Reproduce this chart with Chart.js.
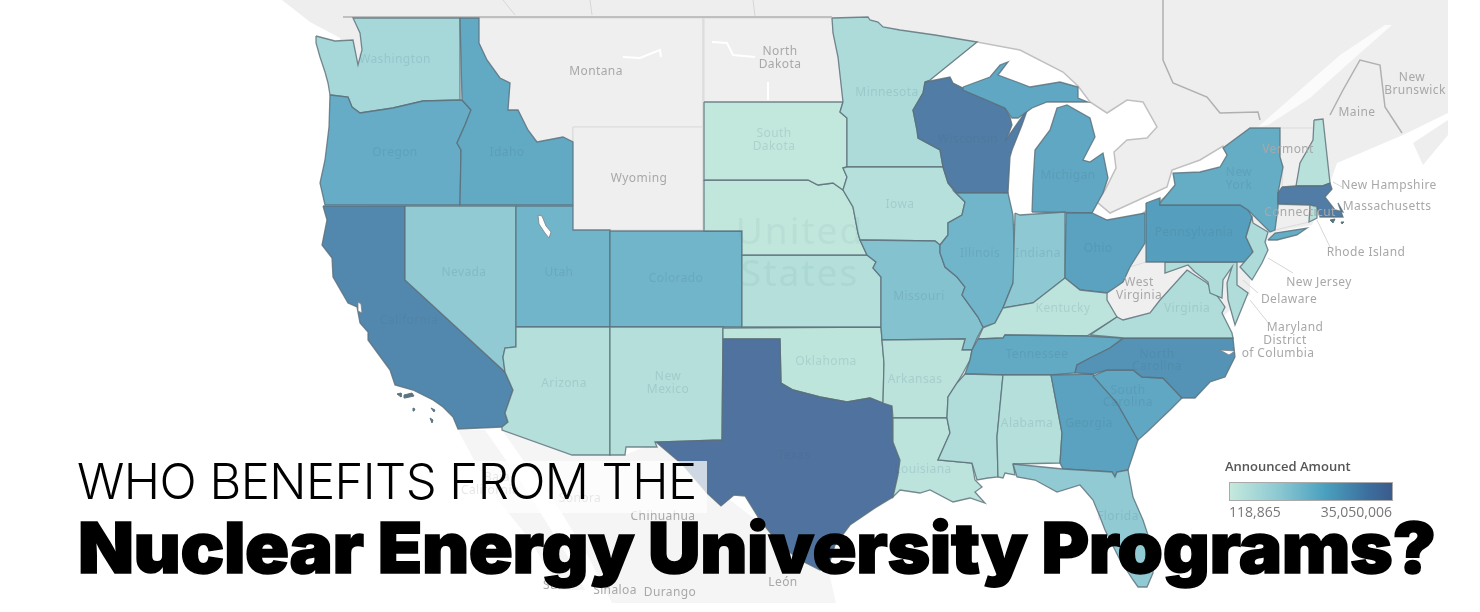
<!DOCTYPE html>
<html>
<head>
<meta charset="utf-8">
<title>Who benefits from the Nuclear Energy University Programs?</title>
<script src="https://cdn.jsdelivr.net/npm/chart.js@4"></script>
<style>
  html, body { margin: 0; padding: 0; background: #fff; width: 1480px; height: 612px; overflow: hidden; }
  #wrap { position: relative; width: 1480px; height: 612px; }
  #mapChart { position: absolute; left: 0; top: 0; }
  #veil { position: absolute; left: 280px; top: 461px; width: 427px; height: 52px; background: rgba(255,255,255,.72); }
  #line1 { position: absolute; left: 77px; top: 452px; font: 300 49px Inter, sans-serif; color: #000; white-space: nowrap; letter-spacing: -0.55px; }
  #line2 { position: absolute; left: 78px; top: 505px; font: 900 70px Inter, sans-serif; color: #000; white-space: nowrap; -webkit-text-stroke: 1.5px #000; letter-spacing: -0.4px; transform: scaleX(1.04); transform-origin: left center; }
  #legTitle { position: absolute; left: 1225px; top: 457px; font: 600 13px "Open Sans", sans-serif; color: #555; }
  #legBar { position: absolute; left: 1229px; top: 482px; width: 162px; height: 17px; border: 1px solid #aaa;
            background: linear-gradient(to right, #c5e9dd, #8cc8d2 30%, #4ba1bf 58%, #3c6f9e 85%, #3b5b8c); }
  #legMin { position: absolute; left: 1229px; top: 502px; font: 14px "Open Sans", sans-serif; color: #777; }
  #legMax { position: absolute; right: 88px; top: 502px; font: 14px "Open Sans", sans-serif; color: #777; }
</style>
</head>
<body>
<div id="wrap">
  <canvas id="mapChart" width="1480" height="612"></canvas>
  <div id="veil"></div>
  <div id="line1">WHO BENEFITS FROM THE</div>
  <div id="line2">Nuclear Energy University Programs?</div>
  <div id="legTitle">Announced Amount</div>
  <div id="legBar"></div>
  <div id="legMin">118,865</div>
  <div id="legMax">35,050,006</div>
</div>
<script>
// amounts are estimated from the colour of each state
const minAmount = 118865;
const maxAmount = 35050006;

const stateNames = ['Washington','Oregon','Idaho','California','Nevada','Utah','Colorado','Arizona','New Mexico','Oklahoma','Texas','Kansas','Nebraska','South Dakota','Minnesota','Iowa','Missouri','Arkansas','Louisiana','Wisconsin','Michigan','Michigan','Illinois','Indiana','Ohio','Kentucky','Tennessee','Mississippi','Alabama','Georgia','South Carolina','North Carolina','Florida','Virginia','Maryland','Pennsylvania','New York','New York','New Jersey','New Hampshire','Massachusetts','Rhode Island'];

const stateAmounts = [7800000,19000000,20300000,29800000,11600000,16500000,16500000,4600000,4600000,1800000,35050006,4600000,1100000,800000,6300000,4200000,13400000,2800000,2500000,32600000,21000000,21000000,16500000,12000000,23000000,2100000,20300000,5600000,4600000,23000000,21000000,27300000,11600000,5600000,5600000,24500000,19300000,19300000,6600000,3500000,32600000,4600000];

// outlines in map units, same order as stateNames
const stateOutlines = [
  [[316,36],[335,41],[353,40],[358,65],[362,50],[360,33],[353,18],[460,18],[460,100],[423,101],[393,108],[360,113],[352,107],[348,97],[330,95],[328,83],[325,72],[320,57],[316,43]],
  [[330,95],[348,97],[352,107],[360,113],[393,108],[423,101],[462,100],[471,110],[465,125],[457,143],[461,150],[460,205],[325,205],[320,183],[325,160],[329,127]],
  [[460,18],[479,18],[479,43],[487,60],[500,78],[510,83],[508,110],[518,110],[528,130],[537,142],[563,137],[573,142],[573,205],[460,205],[461,150],[457,143],[465,125],[471,110],[462,100]],
  [[323,206],[405,206],[405,280],[505,372],[513,390],[505,413],[508,422],[502,427],[458,429],[453,417],[443,407],[433,400],[413,390],[395,385],[390,370],[368,340],[368,332],[360,323],[357,307],[348,303],[333,277],[332,258],[322,245],[327,220]],
  [[405,206],[516,206],[516,347],[505,348],[503,357],[505,372],[405,280]],
  [[516,206],[573,206],[573,230],[610,230],[610,327],[516,327]],
  [[610,231],[742,231],[742,327],[610,327]],
  [[516,327],[610,327],[610,455],[572,455],[502,430],[502,427],[508,422],[505,413],[513,390],[505,372],[503,357],[505,348],[516,347]],
  [[610,327],[723,327],[722,440],[655,442],[657,447],[626,447],[625,455],[610,455]],
  [[723,328],[881,327],[882,340],[884,363],[883,403],[870,398],[847,402],[820,397],[793,390],[781,383],[780,339],[723,339]],
  [[723,339],[780,339],[781,383],[793,390],[820,397],[847,402],[870,398],[883,403],[892,406],[893,442],[900,460],[898,475],[893,497],[875,508],[850,525],[835,545],[828,568],[820,570],[800,560],[780,545],[760,520],[745,496],[734,495],[721,506],[707,493],[683,465],[656,442],[722,440]],
  [[742,255],[867,255],[876,262],[873,268],[881,277],[881,327],[742,327]],
  [[704,180],[808,180],[818,185],[833,183],[843,190],[853,207],[858,233],[860,240],[867,255],[742,255],[742,231],[704,231]],
  [[704,102],[843,102],[840,112],[847,118],[847,167],[843,168],[847,177],[843,190],[833,183],[818,185],[808,180],[704,180]],
  [[832,18],[868,17],[870,20],[878,22],[883,27],[900,30],[935,35],[977,42],[930,80],[925,82],[923,93],[913,110],[917,130],[918,138],[940,150],[943,167],[847,167],[847,118],[840,112],[843,102],[838,57],[833,33]],
  [[847,167],[943,167],[948,183],[955,192],[965,202],[962,215],[948,223],[948,235],[940,245],[935,241],[860,240],[858,233],[853,207],[843,190],[847,177],[843,168]],
  [[860,240],[935,241],[940,245],[940,253],[945,267],[957,277],[965,287],[962,295],[978,317],[983,327],[977,338],[972,350],[962,350],[965,339],[882,340],[881,327],[881,277],[873,268],[876,262],[867,255]],
  [[882,340],[965,339],[962,350],[972,350],[970,360],[963,373],[957,383],[948,397],[947,418],[893,418],[892,406],[883,403],[884,363]],
  [[893,418],[947,418],[950,433],[938,460],[972,463],[975,480],[982,487],[975,492],[985,503],[970,498],[953,502],[930,490],[920,493],[900,490],[893,497],[898,475],[900,460],[893,442]],
  [[925,82],[950,77],[953,83],[963,88],[1005,108],[1010,117],[1012,125],[1007,138],[1028,108],[1022,125],[1012,150],[1010,157],[1008,193],[957,193],[948,183],[943,167],[940,150],[918,138],[917,130],[913,110],[923,93]],
  [[963,87],[990,77],[1000,65],[1008,62],[998,75],[1017,82],[1030,87],[1060,82],[1078,87],[1078,98],[1088,102],[1067,102],[1047,102],[1032,108],[1018,118],[1012,118],[1005,108],[963,90]],
  [[1032,212],[1033,183],[1035,150],[1050,130],[1057,108],[1067,105],[1090,118],[1095,137],[1083,160],[1090,162],[1103,153],[1108,178],[1103,193],[1092,213]],
  [[957,193],[1008,193],[1013,215],[1015,270],[1013,283],[1003,308],[995,323],[983,327],[978,317],[962,295],[965,287],[957,277],[945,267],[940,253],[940,245],[948,235],[948,223],[962,215],[965,202],[955,192]],
  [[1015,213],[1020,215],[1065,212],[1065,278],[1033,303],[1003,308],[1013,283]],
  [[1066,213],[1092,213],[1107,220],[1145,213],[1145,243],[1130,267],[1123,282],[1107,293],[1080,290],[1065,278]],
  [[983,328],[995,323],[1003,308],[1033,303],[1065,278],[1080,290],[1107,293],[1107,300],[1117,317],[1087,336],[1005,335],[1003,338],[978,339]],
  [[978,339],[1003,338],[1005,335],[1087,336],[1123,338],[1110,348],[1090,358],[1077,365],[1075,373],[1051,375],[1003,375],[965,374],[970,360],[972,350]],
  [[965,374],[1003,375],[997,437],[998,477],[988,478],[977,480],[972,463],[938,460],[950,433],[947,418],[948,397],[957,383]],
  [[1003,375],[1051,375],[1062,433],[1060,463],[1013,464],[1015,475],[1005,473],[1003,478],[998,477],[997,437]],
  [[1051,375],[1093,374],[1117,403],[1138,440],[1128,470],[1117,472],[1115,477],[1112,472],[1063,469],[1060,463],[1062,433]],
  [[1093,376],[1107,370],[1133,370],[1142,377],[1163,378],[1182,398],[1170,410],[1147,432],[1138,440],[1117,403]],
  [[1124,338],[1233,338],[1235,357],[1225,377],[1210,382],[1195,398],[1182,398],[1163,378],[1142,377],[1133,370],[1107,370],[1093,374],[1075,373],[1077,365],[1090,358],[1110,348]],
  [[1013,464],[1063,469],[1112,472],[1115,477],[1117,472],[1128,470],[1133,497],[1143,520],[1153,550],[1153,573],[1147,587],[1138,587],[1133,580],[1120,560],[1105,530],[1100,517],[1093,500],[1080,485],[1057,492],[1035,480],[1017,477]],
  [[1090,335],[1117,317],[1123,320],[1150,313],[1160,300],[1187,270],[1207,283],[1213,290],[1225,307],[1222,313],[1232,333],[1233,338],[1124,338]],
  [[1165,262],[1237,262],[1237,285],[1248,293],[1235,325],[1228,300],[1227,283],[1232,267],[1223,280],[1222,298],[1210,293],[1208,282],[1195,272],[1188,265],[1165,273]],
  [[1146,203],[1160,198],[1160,205],[1240,205],[1248,210],[1252,217],[1246,237],[1253,252],[1247,262],[1146,262]],
  [[1160,203],[1175,185],[1173,173],[1200,172],[1220,167],[1227,155],[1223,148],[1250,128],[1280,128],[1280,157],[1283,167],[1278,193],[1278,207],[1275,230],[1270,232],[1248,210],[1240,205],[1160,205]],
  [[1268,240],[1275,233],[1307,228],[1297,235],[1277,240]],
  [[1253,223],[1268,232],[1265,242],[1268,250],[1262,263],[1252,280],[1240,267],[1253,252],[1246,237],[1252,217]],
  [[1314,120],[1323,119],[1330,183],[1322,186],[1296,186],[1300,163],[1313,140]],
  [[1282,187],[1296,186],[1322,186],[1330,183],[1332,189],[1325,197],[1335,210],[1343,212],[1338,203],[1343,217],[1320,217],[1317,207],[1310,205],[1278,204],[1278,193]],
  [[1310,205],[1317,207],[1317,218],[1309,222]]
];

// land and water under the states
const landOutline = [[282,0],[1448,0],[1448,113],[1403,135],[1363,152],[1337,163],[1330,183],[1312,225],[1275,232],[1250,262],[1250,295],[1240,300],[1200,340],[900,400],[600,400],[360,200],[340,38],[310,22]];
const novaScotia = [[1448,120],[1413,143],[1423,165],[1448,135]];
const mexicoMain = [[502,430],[572,455],[625,455],[656,442],[820,570],[828,568],[836,603],[612,603],[590,560],[560,510],[530,470]];
const bajaOutline = [[458,430],[485,430],[520,480],[545,520],[570,560],[585,590],[560,590],[530,540],[490,490]];
const lakesOutline = [[925,84],[977,42],[1020,50],[1063,72],[1078,86],[1090,102],[1107,113],[1127,100],[1143,102],[1157,127],[1147,138],[1127,140],[1114,152],[1116,168],[1105,190],[1097,202],[1110,213],[1167,187],[1172,170],[1200,160],[1223,146],[1228,156],[1220,170],[1175,190],[1140,215],[1090,225],[1000,225],[950,120]];
const stLawrence = [[1258,127],[1300,90],[1340,55],[1385,25],[1392,25],[1350,62],[1310,98],[1268,125]];

const greyRegions = [
  [[479,18],[703,18],[703,127],[573,127],[573,142],[563,137],[537,142],[528,130],[518,110],[508,110],[510,83],[500,78],[487,60],[479,43]],
  [[704,18],[832,18],[833,33],[838,57],[843,102],[704,102]],
  [[573,127],[703,127],[703,230],[573,230]],
  [[1280,128],[1314,128],[1313,140],[1300,163],[1296,186],[1282,187],[1283,167],[1280,157]],
  [[1278,205],[1310,205],[1309,222],[1275,230]],
  [[1107,300],[1107,293],[1123,282],[1130,267],[1146,262],[1165,262],[1165,273],[1188,265],[1195,272],[1187,270],[1160,300],[1150,313],[1123,320],[1117,317]]
];

const whiteHoles = [
  [[538,215],[542,216],[546,226],[551,232],[549,238],[545,233],[539,224]],
  [[358,302],[361,304],[362,313],[358,311]],
  [[1220,350],[1235,351],[1229,355]]
];
const whiteRivers = [
  [[623,57],[640,58],[660,50],[661,57]],
  [[712,42],[727,43],[733,55],[755,57]],
  [[768,82],[768,100]]
];
const paleLines = [
  [[503,0],[515,15]],
  [[590,0],[592,15]],
  [[753,0],[755,16]],
  [[1333,182],[1342,187]],
  [[1317,220],[1330,247]],
  [[1268,258],[1293,273]],
  [[1243,280],[1258,293]],
  [[1250,300],[1270,325]]
];
const borderLines = [
  [[343,17],[832,17]],
  [[1163,0],[1163,60],[1173,83],[1207,97],[1220,113],[1258,112],[1260,120]],
  [[1330,115],[1343,90],[1360,60],[1380,65],[1385,107],[1402,133]]
];
const islands = [
  [[397,394],[401,393],[401,397]],
  [[404,395],[412,393],[414,396],[405,398]],
  [[413,408],[415,409],[414,411]],
  [[431,408],[435,410],[434,412]],
  [[430,418],[433,420],[432,423]],
  [[1330,220],[1335,219],[1333,223]],
  [[1341,222],[1344,222],[1342,224]]
];

const stateLabels = ['Washington','Oregon','Idaho','South','Dakota','Minnesota','Nevada','Utah','Colorado','California','Arizona','New','Mexico','Oklahoma','Texas','Arkansas','Louisiana','Missouri','Iowa','Wisconsin','Michigan','Illinois','Indiana','Ohio','Kentucky','Tennessee','North','Carolina','South','Carolina','Georgia','Alabama','Virginia','Pennsylvania','New','York','Florida'];
const stateLabelX = [395,395,507,774,774,887,464,559,676,409,564,668,668,826,794,915,923,919,900,968,1068,980,1038,1098,1063,1037,1157,1157,1128,1128,1089,1027,1187,1194,1239,1239,1118];
const stateLabelY = [60,153,153,134,147,93,273,273,279,321,384,377,390,362,456,380,470,297,205,140,176,254,254,249,309,355,355,367,391,403,424,424,309,233,173,186,517];

const placeLabels = ['Montana','North','Dakota','Wyoming','New','Brunswick','Maine','Vermont','Connecticut','West','Virginia','New Hampshire','Massachusetts','Rhode Island','New Jersey','Delaware','Maryland','District','of Columbia','Chihuahua','Sonora','Sinaloa','Durango','León','Baja','California','Sur'];
const placeLabelX = [596,780,780,639,1412,1415,1357,1288,1300,1139,1139,1389,1387,1366,1319,1289,1295,1285,1278,663,580,615,670,783,497,490,553];
const placeLabelY = [72,52,65,179,78,91,113,150,213,283,296,186,207,253,283,300,328,341,354,517,499,591,593,583,478,491,586];

const colourStops = [
  [0, [197,232,221]],
  [0.25, [163,214,216]],
  [0.5, [106,176,200]],
  [0.7, [86,158,189]],
  [1, [80,114,158]]
];

function amountColour(amount) {
  const t = (amount - minAmount) / (maxAmount - minAmount);
  for (let i = 1; i < colourStops.length; i++) {
    if (t <= colourStops[i][0]) {
      const [t0, c0] = colourStops[i - 1];
      const [t1, c1] = colourStops[i];
      const f = (t - t0) / (t1 - t0);
      return `rgb(${c0.map((c, k) => Math.round(c + (c1[k] - c) * f)).join(',')})`;
    }
  }
  return 'rgb(80,114,158)';
}

function toPoints(outline) {
  return outline.map(p => ({ x: p[0], y: p[1] }));
}

function closed(outline) {
  return toPoints(outline.concat([outline[0]]));
}

function shape(outline, fillColour, lineColour, lineWidth) {
  return {
    data: closed(outline),
    showLine: true,
    fill: 'shape',
    backgroundColor: fillColour,
    borderColor: lineColour,
    borderWidth: lineWidth,
    pointRadius: 0,
    tension: 0
  };
}

function line(outline, lineColour, lineWidth) {
  return {
    data: toPoints(outline),
    showLine: true,
    fill: false,
    borderColor: lineColour,
    borderWidth: lineWidth,
    pointRadius: 0,
    tension: 0
  };
}

const layers = [];
const landGrey = '#eeeeee';
layers.push(shape(landOutline, landGrey, landGrey, 0));
layers.push(shape(novaScotia, landGrey, landGrey, 0));
layers.push(shape(mexicoMain, '#f5f5f5', '#f5f5f5', 0));
layers.push(shape(bajaOutline, '#f5f5f5', '#f5f5f5', 0));
layers.push(shape(stLawrence, '#fbfbfb', '#fbfbfb', 0));
layers.push(shape(lakesOutline, '#ffffff', '#c0c0c0', 1.5));
greyRegions.forEach(o => layers.push(shape(o, '#efefef', '#dcdcdc', 1)));
paleLines.forEach(o => layers.push(line(o, '#d6d6d6', 1)));
borderLines.forEach(o => layers.push(line(o, '#b0b0b0', 1.5)));
whiteRivers.forEach(o => layers.push(line(o, '#ffffff', 2)));
stateOutlines.forEach((o, i) => {
  layers.push(shape(o, amountColour(stateAmounts[i]), 'rgba(90,110,120,.8)', 1.3));
});
whiteHoles.forEach(o => layers.push(shape(o, '#ffffff', 'rgba(120,130,135,.8)', 1)));
islands.forEach(o => layers.push(shape(o, '#5b7482', '#5b7482', 1)));
// the library paints low order last, so keep the list order as paint order
layers.forEach((d, i) => { d.order = layers.length - i; });

const mapLabels = {
  id: 'mapLabels',
  afterDatasetsDraw(chart) {
    const { ctx, scales } = chart;
    ctx.save();
    ctx.textAlign = 'center';
    ctx.textBaseline = 'middle';
    ctx.font = '12px "Noto Sans", sans-serif';
    ctx.letterSpacing = '0.4px';
    ctx.fillStyle = 'rgba(60,105,130,.16)';
    stateLabels.forEach((t, i) => ctx.fillText(t, scales.x.getPixelForValue(stateLabelX[i]), scales.y.getPixelForValue(stateLabelY[i])));
    ctx.fillStyle = '#a8a8a8';
    placeLabels.forEach((t, i) => ctx.fillText(t, scales.x.getPixelForValue(placeLabelX[i]), scales.y.getPixelForValue(placeLabelY[i])));
    ctx.font = '37px "Noto Sans", sans-serif';
    ctx.letterSpacing = '2px';
    ctx.fillStyle = 'rgba(70,125,135,.07)';
    ctx.fillText('United', scales.x.getPixelForValue(800), scales.y.getPixelForValue(233));
    ctx.fillText('States', scales.x.getPixelForValue(800), scales.y.getPixelForValue(275));
    ctx.restore();
  }
};

new Chart(document.getElementById('mapChart').getContext('2d'), {
  type: 'scatter',
  data: { datasets: layers },
  options: {
    responsive: false,
    animation: false,
    layout: { padding: 0 },
    plugins: { legend: { display: false }, title: { display: false }, tooltip: { enabled: false } },
    scales: {
      x: { type: 'linear', min: 0, max: 1480, display: false },
      y: { type: 'linear', min: 0, max: 612, reverse: true, display: false }
    }
  },
  plugins: [mapLabels]
});
</script>
</body>
</html>
